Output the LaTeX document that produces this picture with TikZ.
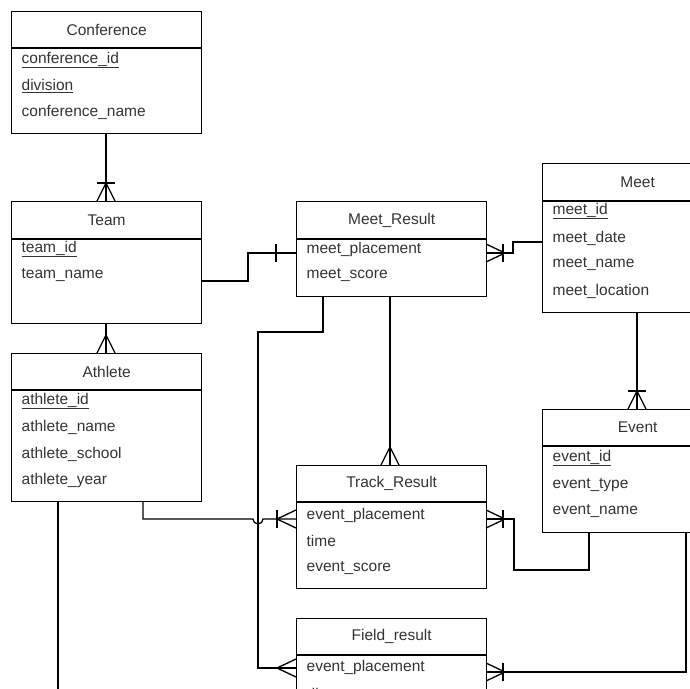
\documentclass[tikz,border=0pt]{standalone}
\usepackage{fontspec}
\setmainfont{Liberation Sans}
\usetikzlibrary{calc}
\begin{document}
\begin{tikzpicture}[x=1pt,y=-1pt,line width=1.3pt,
  box/.style={draw,line width=1.3pt,anchor=north west,inner sep=0pt},
  ttl/.style={font=\fontsize{15.5}{17}\selectfont,text=black!80},
  att/.style={font=\fontsize{15.5}{17}\selectfont,anchor=west,text=black!80,inner sep=0pt},
  con/.style={line width=1.3pt}]
\useasboundingbox (0,0) rectangle (690,688);
\clip (0,0) rectangle (690,688);
\newcommand{\ent}[7]{%
  \node[box,minimum width=#4-#2,minimum height=#5-#3] (#1) at (#2,#3) {};
  \draw ($(#1.north west)+(0,#7-#3)$) -- ($(#1.north east)+(0,#7-#3)$);
  \node[ttl] (#1t) at ($(#1.north)!0.5!($(#1.north)+(0,#7-#3)$)$) {#6};}
\ent{conf}{11}{11}{201}{133}{Conference}{48}
\ent{team}{11}{201}{201}{323}{Team}{239}
\ent{ath}{11}{353}{201}{501}{Athlete}{390}
\ent{mr}{296}{201}{486}{296}{Meet\_Result}{239}
\ent{meet}{542}{163}{732}{312}{Meet}{201}
\ent{ev}{542}{409}{732}{532}{Event}{446}
\ent{tr}{296}{465}{486}{588}{Track\_Result}{502}
\ent{fr}{296}{618}{486}{760}{Field\_result}{655}
% attributes
\node[att] (c1) at (21,60) {\underline{conference\_id}};
\node[att] (c2) at (21,86) {\underline{division}};
\node[att] (c3) at (21,112) {conference\_name};
\node[att] (t1) at (21,249) {\underline{team\_id}};
\node[att] (t2) at (21,275) {team\_name};
\node[att] (a1) at (21,401) {\underline{athlete\_id}};
\node[att] (a2) at (21,427) {athlete\_name};
\node[att] (a3) at (21,454) {athlete\_school};
\node[att] (a4) at (21,480) {athlete\_year};
\node[att] (m1) at (306,249) {meet\_placement};
\node[att] (m2) at (306,275) {meet\_score};
\node[att] (e1) at (552,211) {\underline{meet\_id}};
\node[att] (e2) at (552,238) {meet\_date};
\node[att] (e3) at (552,264) {meet\_name};
\node[att] (e4) at (552,291) {meet\_location};
\node[att] (v1) at (552,458) {\underline{event\_id}};
\node[att] (v2) at (552,485) {event\_type};
\node[att] (v3) at (552,511) {event\_name};
\node[att] (r1) at (306,515) {event\_placement};
\node[att] (r2) at (306,541) {time};
\node[att] (r3) at (306,568) {event\_score};
\node[att] (f1) at (306,667) {event\_placement};
\node[att] (f2) at (306,694) {distance};
% Conference - Team
\draw[con] (106,133) -- (106,201);
\draw[con] (97,201) -- (106,183) -- (115,201); \draw[con] (97,183) -- (115,183);
% Team - Athlete
\draw[con] (106,323) -- (106,353);
\draw[con] (97,353) -- (106,335) -- (115,353);
% Team - Meet_Result
\draw[con] (201,281) -- (248,281) -- (248,253) -- (296,253);
\draw[con] (276,244) -- (276,262);
% Meet_Result - Meet
\draw[con] (486,253) -- (513,253) -- (513,242) -- (542,242);
\draw[con] (486,244) -- (505,253) -- (486,262); \draw[con] (503,244) -- (503,262);
% Meet - Event
\draw[con] (637,312) -- (637,409);
\draw[con] (628,409) -- (637,391) -- (646,409); \draw[con] (628,391) -- (646,391);
% Meet_Result - Track_Result
\draw[con] (390,296) -- (390,465);
\draw[con] (381,465) -- (390,447) -- (399,465);
% Meet_Result - Field_result
\draw[con] (323,296) -- (323,332) -- (258,332) -- (258,668) -- (296,668);
\draw[con] (296,659) -- (277,668) -- (296,677);
% Athlete - Track_Result (with hop)
\draw[con] (143,501) -- (143,519) -- (253,519) arc (180:0:5) -- (296,519);
\draw[con] (296,510) -- (277,519) -- (296,528); \draw[con] (277,510) -- (277,528);
% Athlete down
\draw[con] (58,501) -- (58,700);
% Event - Track_Result
\draw[con] (589,532) -- (589,570) -- (514,570) -- (514,519) -- (486,519);
\draw[con] (486,510) -- (505,519) -- (486,528); \draw[con] (503,510) -- (503,528);
% Event - Field_result
\draw[con] (686,532) -- (686,672) -- (486,672);
\draw[con] (486,663) -- (505,672) -- (486,681); \draw[con] (503,663) -- (503,681);
\end{tikzpicture}
\end{document}
